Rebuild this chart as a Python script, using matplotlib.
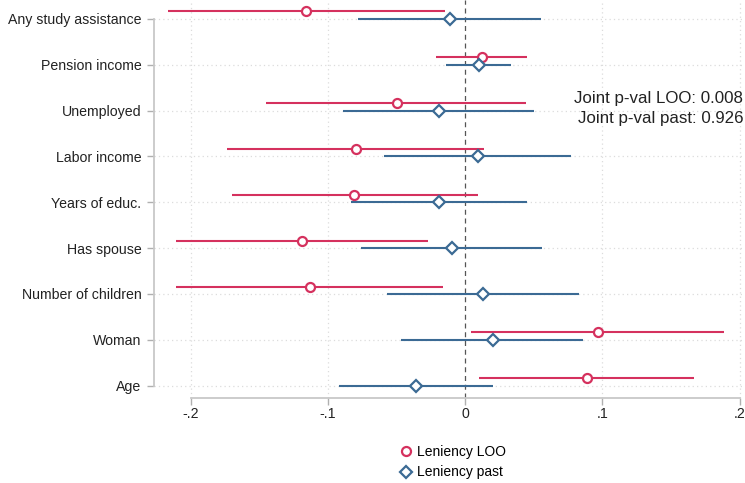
import matplotlib
matplotlib.use("Agg")
import matplotlib.pyplot as plt
from matplotlib.lines import Line2D
import numpy as np

plt.rcParams['font.family'] = ['Liberation Sans', 'DejaVu Sans']

categories = ["Any study assistance", "Pension income", "Unemployed", "Labor income",
              "Years of educ.", "Has spouse", "Number of children", "Woman", "Age"]

loo_pt = [-0.116, 0.012, -0.050, -0.080, -0.081, -0.119, -0.113, 0.097, 0.089]
loo_lo = [-0.217, -0.021, -0.145, -0.174, -0.170, -0.211, -0.211, 0.004, 0.010]
loo_hi = [-0.015, 0.045, 0.044, 0.014, 0.009, -0.027, -0.016, 0.189, 0.167]

past_pt = [-0.011, 0.010, -0.019, 0.009, -0.019, -0.010, 0.013, 0.020, -0.036]
past_lo = [-0.078, -0.014, -0.089, -0.059, -0.083, -0.076, -0.057, -0.047, -0.092]
past_hi = [0.055, 0.033, 0.050, 0.077, 0.045, 0.056, 0.083, 0.086, 0.020]

series_labels = ["Leniency LOO", "Leniency past"]
annot = ["Joint p-val LOO: 0.008", "Joint p-val past: 0.926"]

red = "#D5315E"
blue = "#3B6A94"

fig = plt.figure(figsize=(7.45, 4.83), dpi=100)
ax = fig.add_axes([154/745, (483-398)/483, (745-154)/745, 398/483])

n = len(categories)
ypos = np.arange(n)[::-1].astype(float)  # top category at highest y
off = 0.16

ax.set_xlim(-0.227, 0.204)
ax.set_ylim(-0.27, n - 1 + 0.41)

# grid
for gx in [-0.2, -0.1, 0.1, 0.2]:
    ax.axvline(gx, color="#dcdcdc", lw=0.9, ls=(0, (1, 2.5)), zorder=0)
for gy in ypos:
    ax.axhline(gy, color="#dcdcdc", lw=0.9, ls=(0, (1, 2.5)), zorder=0)
ax.axvline(0, color="#555555", lw=0.9, ls=(0, (4, 3)), zorder=1)

loo_pt_a = np.array(loo_pt)
past_pt_a = np.array(past_pt)
ax.errorbar(loo_pt_a, ypos + off,
            xerr=[loo_pt_a - np.array(loo_lo), np.array(loo_hi) - loo_pt_a],
            fmt='o', color=red, ecolor=red, elinewidth=1.5, capsize=0,
            markersize=6.5, markerfacecolor='white', markeredgewidth=1.6,
            zorder=3)
ax.errorbar(past_pt_a, ypos,
            xerr=[past_pt_a - np.array(past_lo), np.array(past_hi) - past_pt_a],
            fmt='D', color=blue, ecolor=blue, elinewidth=1.5, capsize=0,
            markersize=6.0, markerfacecolor='white', markeredgewidth=1.6,
            zorder=3)

ax.set_yticks(ypos)
ax.set_yticklabels(categories, fontsize=10.2, color="#222222")
ax.set_xticks([-0.2, -0.1, 0, 0.1, 0.2])
ax.set_xticklabels(["-.2", "-.1", "0", ".1", ".2"], fontsize=10.2, color="#222222")

for s in ["top", "right"]:
    ax.spines[s].set_visible(False)
ax.spines["left"].set_bounds(ypos.min(), ypos.max())
ax.spines["bottom"].set_bounds(-0.2, 0.2)
for s in ["left", "bottom"]:
    ax.spines[s].set_color("#c8c8c8")
    ax.spines[s].set_linewidth(1.3)
ax.tick_params(axis='both', colors="#b0b0b0", length=5, width=1.0, labelcolor="#222222")
ax.tick_params(axis='y', pad=4)
ax.tick_params(axis='x', pad=1.5)

fig.text(743/745, 1 - 98/483, annot[0], ha='right', va='center', fontsize=12.2, color="#222222")
fig.text(743/745, 1 - 119/483, annot[1], ha='right', va='center', fontsize=12.2, color="#222222")

handles = [
    Line2D([], [], ls='none', marker='o', markersize=6.5, markerfacecolor='white',
           markeredgecolor=red, markeredgewidth=1.6),
    Line2D([], [], ls='none', marker='D', markersize=6.0, markerfacecolor='white',
           markeredgecolor=blue, markeredgewidth=1.6),
]
fig.legend(handles, series_labels, loc='center', bbox_to_anchor=(452/745, 1 - 462/483),
           frameon=False, fontsize=10, handletextpad=0.2, handlelength=1.2,
           labelspacing=0.5, borderpad=0)

fig.savefig("out.png", dpi=100)
